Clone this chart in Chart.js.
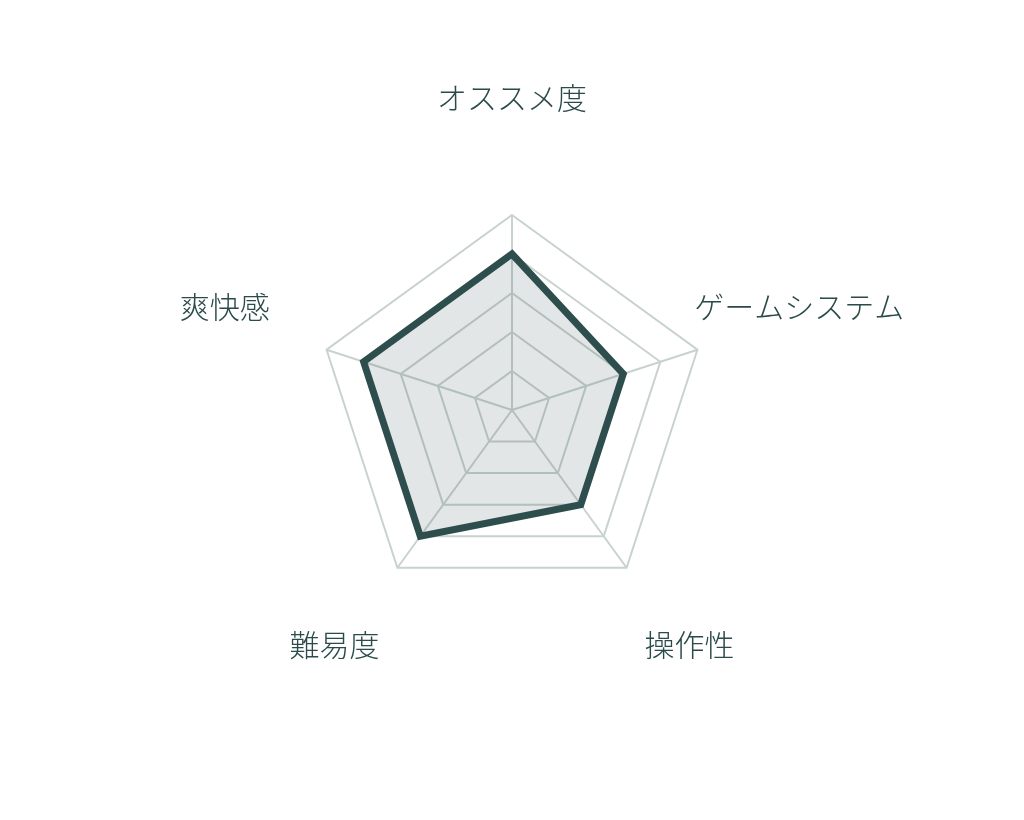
<!DOCTYPE html>
<html>
<head>
<meta charset="utf-8">
<script src="https://cdn.jsdelivr.net/npm/chart.js@4"></script>
<style>
  html, body { margin: 0; padding: 0; background: #fff; }
  #wrap { width: 1024px; height: 820px; }
</style>
</head>
<body>
<div id="wrap"><canvas id="radar" width="1024" height="820"></canvas></div>
<script>
const labels = ["オススメ度", "ゲームシステム", "操作性", "難易度", "爽快感"];
const scores = [4, 3, 3, 4, 4];
const scaleMax = 5;

const lineColor = "#2d4e4d";
const labelColor = "#2b4a4a";
const gridColor = "#c8d2cf";

// labels are centered on the axis direction, not aligned like the default point labels
const axisLabels = {
  id: "axisLabels",
  afterDraw(chart) {
    const scale = chart.scales.r;
    const ctx = chart.ctx;
    ctx.save();
    ctx.font = '300 30px "Noto Sans CJK JP", "Noto Sans", sans-serif';
    ctx.fillStyle = labelColor;
    ctx.textAlign = "center";
    ctx.textBaseline = "middle";
    labels.forEach((text, i) => {
      const p = scale.getPointPosition(i, scale.drawingArea + 107);
      ctx.fillText(text, p.x, p.y - 10);
    });
    ctx.restore();
  },
};

new Chart(document.getElementById("radar").getContext("2d"), {
  type: "radar",
  data: {
    labels: labels,
    datasets: [
      {
        data: scores,
        borderColor: lineColor,
        backgroundColor: "rgba(47, 79, 79, 0.14)",
        borderWidth: 7,
        borderJoinStyle: "miter",
        pointRadius: 0,
        pointHoverRadius: 0,
        fill: true,
      },
    ],
  },
  options: {
    responsive: false,
    animation: false,
    layout: {
      padding: { top: 215, bottom: 215, left: 317, right: 317 },
    },
    plugins: {
      legend: { display: false },
      tooltip: { enabled: false },
    },
    scales: {
      r: {
        min: 0,
        max: scaleMax,
        ticks: { display: false, stepSize: 1 },
        grid: { color: gridColor, lineWidth: 2 },
        angleLines: { color: gridColor, lineWidth: 2 },
        pointLabels: { display: false },
      },
    },
  },
  plugins: [axisLabels],
});
</script>
</body>
</html>
